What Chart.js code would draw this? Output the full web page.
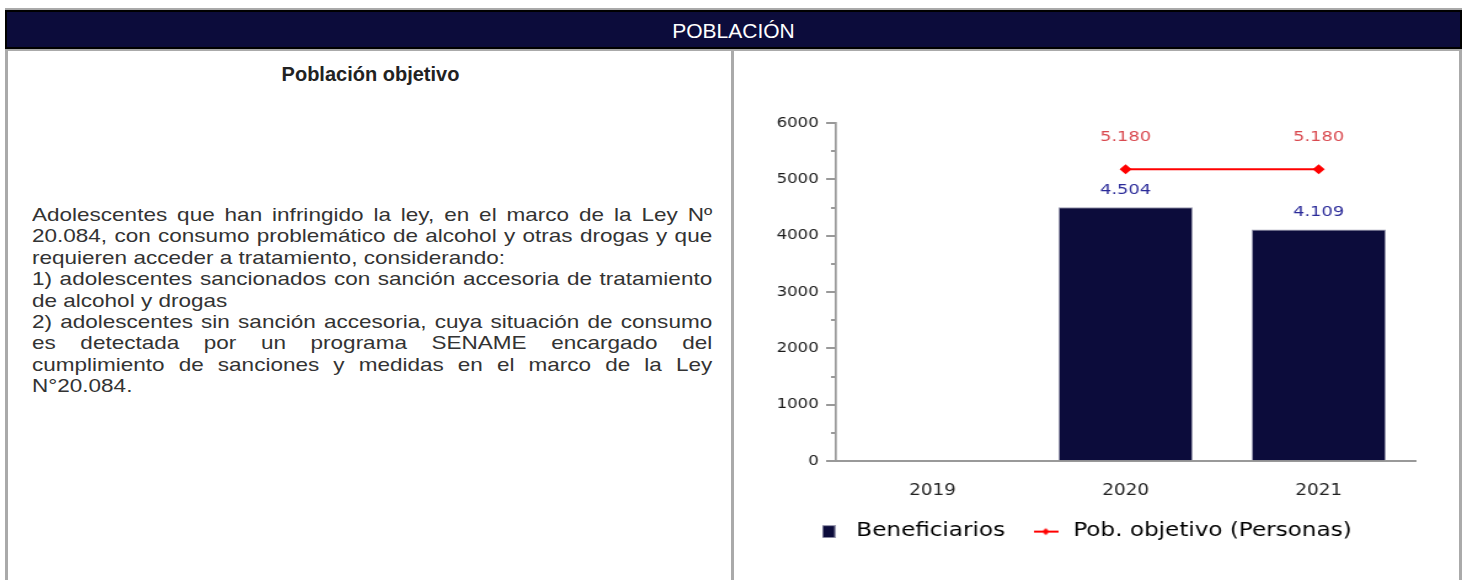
<!DOCTYPE html>
<html>
<head>
<meta charset="utf-8">
<script src="https://cdn.jsdelivr.net/npm/chart.js@4.4.1/dist/chart.umd.min.js"></script>
<style>
  body { margin: 0; background: #fff; width: 1470px; height: 580px; overflow: hidden; position: relative; font-family: "Liberation Sans", Arial, sans-serif; }
  #topline { position: absolute; left: 5px; top: 8px; width: 1457px; height: 2px; background: #aaa; }
  #header { position: absolute; left: 5px; top: 10px; width: 1453px; height: 35px; background: #0c0c3b; border: 2px solid #000; color: #fff; font-size: 21px; text-align: center; line-height: 37px; }
  #underline { position: absolute; left: 5px; top: 49px; width: 1457px; height: 2px; background: #aaa; }
  .vline { position: absolute; top: 49px; width: 3px; height: 531px; background: #aaa; }
  #title { position: absolute; left: 8px; top: 63px; width: 725px; text-align: center; font-weight: bold; font-size: 20px; color: #222; }
  #desc { position: absolute; left: 32px; top: 204px; width: 574px; text-align: justify; font-size: 19px; line-height: 21.4px; color: #333; transform: scaleX(1.185); transform-origin: 0 0; }
  #wrap { position: absolute; left: 740px; top: 95px; width: 581px; height: 480px; transform: scaleX(1.23); transform-origin: 0 0; }
</style>
</head>
<body>
<div id="topline"></div>
<div id="header">POBLACIÓN</div>
<div id="underline"></div>
<div class="vline" style="left:5px"></div>
<div class="vline" style="left:731px"></div>
<div class="vline" style="left:1459px"></div>
<div id="title">Población objetivo</div>
<div id="desc">Adolescentes que han infringido la ley, en el marco de la Ley Nº 20.084, con consumo problemático de alcohol y otras drogas y que requieren acceder a tratamiento, considerando:<br>1) adolescentes sancionados con sanción accesoria de tratamiento de alcohol y drogas<br>2) adolescentes sin sanción accesoria, cuya situación de consumo es detectada por un programa SENAME encargado del cumplimiento de sanciones y medidas en el marco de la Ley N°20.084.</div>
<div id="wrap"><canvas id="chart" width="581" height="480"></canvas></div>
<script>
var years = ['2019', '2020', '2021'];
var beneficiarios = [null, 4504, 4109];
var pobObjetivo = [null, 5180, 5180];
var yTicks = [0, 1000, 2000, 3000, 4000, 5000, 6000];

var NAVY = '#0c0c3b';
var RED = '#ff0000';

function fmt(v) {
    return v.toString().replace(/\B(?=(\d{3})+(?!\d))/g, '.');
}

// legend icons
var boxIcon = document.createElement('canvas');
boxIcon.width = 11; boxIcon.height = 13;
(function () {
    var c = boxIcon.getContext('2d');
    c.fillStyle = '#9a9ab0'; c.fillRect(0, 0, 11, 13);
    c.fillStyle = NAVY; c.fillRect(1, 1, 9, 11);
})();
var lineIcon = document.createElement('canvas');
lineIcon.width = 20; lineIcon.height = 10;
(function () {
    var c = lineIcon.getContext('2d');
    c.strokeStyle = RED; c.lineWidth = 2;
    c.beginPath(); c.moveTo(0, 5); c.lineTo(20, 5); c.stroke();
    c.fillStyle = RED;
    c.beginPath(); c.moveTo(10, 1.5); c.lineTo(13, 5); c.lineTo(10, 8.5); c.lineTo(7, 5); c.closePath(); c.fill();
})();

var valueLabels = {
    id: 'valueLabels',
    afterDatasetsDraw: function (chart) {
        var ctx = chart.ctx;
        ctx.save();
        ctx.font = '14.5px "DejaVu Sans"';
        ctx.textAlign = 'center';
        ctx.textBaseline = 'middle';
        chart.data.datasets.forEach(function (ds, i) {
            var meta = chart.getDatasetMeta(i);
            meta.data.forEach(function (el, j) {
                if (ds.data[j] == null) return;
                ctx.fillStyle = ds.labelColor;
                ctx.fillText(fmt(ds.data[j]), el.x, el.y - ds.labelOffset);
            });
        });
        ctx.restore();
    }
};

var minorTicks = {
    id: 'minorTicks',
    afterDraw: function (chart) {
        var y = chart.scales.y, ctx = chart.ctx;
        ctx.save();
        ctx.strokeStyle = '#999';
        ctx.lineWidth = 2;
        for (var v = 500; v < 6000; v += 1000) {
            var py = Math.round(y.getPixelForValue(v));
            ctx.beginPath(); ctx.moveTo(y.right - 4, py); ctx.lineTo(y.right, py); ctx.stroke();
        }
        ctx.restore();
    }
};

new Chart(document.getElementById('chart'), {
    type: 'bar',
    data: {
        labels: years,
        datasets: [
            {
                type: 'line',
                label: 'Pob. objetivo (Personas)',
                data: pobObjetivo,
                borderColor: RED,
                backgroundColor: RED,
                borderWidth: 2,
                pointStyle: 'rectRot',
                pointRadius: 3.5,
                labelColor: '#d9494f',
                labelOffset: 32,
                order: 0
            },
            {
                label: 'Beneficiarios',
                data: beneficiarios,
                backgroundColor: NAVY,
                borderColor: '#9a9ab0',
                borderWidth: 1,
                barPercentage: 0.695,
                categoryPercentage: 1,
                labelColor: '#2b2b99',
                labelOffset: 17,
                order: 1
            }
        ]
    },
    options: {
        responsive: false,
        animation: false,
        layout: { padding: { top: 28, right: 32, left: 7.5, bottom: 24 } },
        plugins: {
            tooltip: { enabled: false },
            legend: {
                position: 'bottom',
                labels: {
                    font: { family: 'DejaVu Sans', size: 18.8 },
                    color: '#222',
                    padding: 20,
                    usePointStyle: true,
                    pointStyleWidth: 26,
                    generateLabels: function () {
                        return [
                            { text: 'Beneficiarios', pointStyle: boxIcon, datasetIndex: 1, lineWidth: 0 },
                            { text: 'Pob. objetivo (Personas)', pointStyle: lineIcon, datasetIndex: 0, lineWidth: 0 }
                        ];
                    }
                }
            }
        },
        scales: {
            x: {
                afterFit: function (s) { s.height = 41; },
                grid: { display: false, drawTicks: false },
                border: { color: '#999', width: 2 },
                ticks: { color: '#222', font: { family: 'DejaVu Sans', size: 15 }, padding: 21 }
            },
            y: {
                min: 0,
                max: 6000,
                afterFit: function (s) { s.width = 70.5; },
                afterBuildTicks: function (s) { s.ticks = yTicks.map(function (v) { return { value: v }; }); },
                grid: { drawOnChartArea: false, drawTicks: true, tickLength: 8, color: '#999', lineWidth: 2 },
                border: { color: '#999', width: 1.7 },
                ticks: {
                    color: '#1a1a1a',
                    font: { family: 'DejaVu Sans', size: 13.5 },
                    padding: 6,
                    callback: function (v) { return String(v); }
                }
            }
        }
    },
    plugins: [valueLabels, minorTicks]
});
</script>
</body>
</html>
